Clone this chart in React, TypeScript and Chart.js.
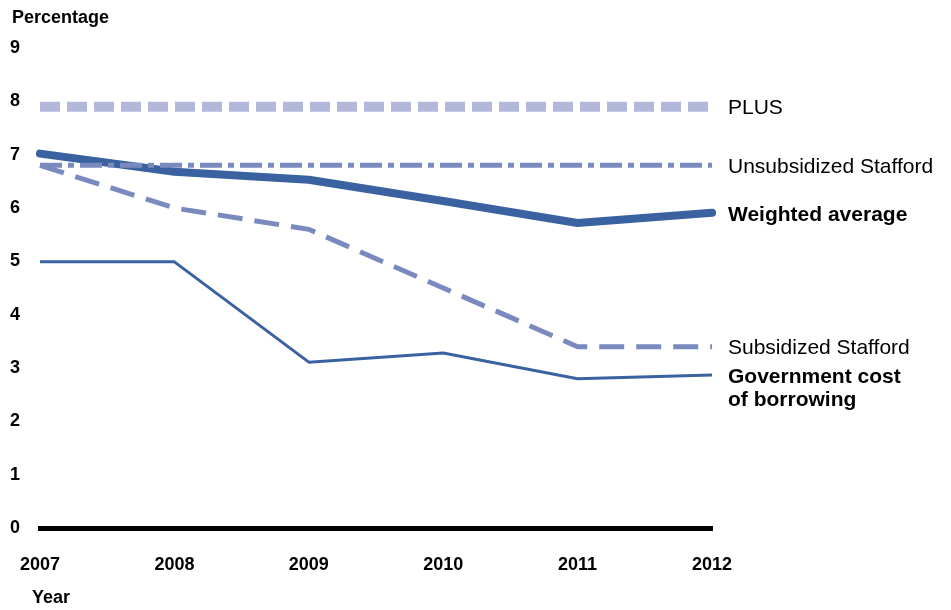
import React, { useEffect, useRef } from "react";
import { Chart, registerables } from "chart.js";

Chart.register(...registerables);

const years = ["2007", "2008", "2009", "2010", "2011", "2012"];
const plus = [7.9, 7.9, 7.9, 7.9, 7.9, 7.9];
const unsubsidized = [6.8, 6.8, 6.8, 6.8, 6.8, 6.8];
const weightedAverage = [7.02, 6.68, 6.53, 6.13, 5.72, 5.91];
const subsidized = [6.8, 6.0, 5.6, 4.5, 3.4, 3.4];
const govCost = [4.99, 4.99, 3.11, 3.28, 2.8, 2.87];

const yTicks = [0, 1, 2, 3, 4, 5, 6, 7, 8, 9];
const yTitle = "Percentage";
const xTitle = "Year";

const FONT = "'Liberation Sans', Arial, Helvetica, sans-serif";

type LabelSpec = { lines: string[]; bold: boolean };
const seriesLabels: LabelSpec[] = [
  { lines: ["Government cost", "of borrowing"], bold: true },
  { lines: ["Subsidized Stafford"], bold: false },
  { lines: ["PLUS"], bold: false },
  { lines: ["Unsubsidized Stafford"], bold: false },
  { lines: ["Weighted average"], bold: true },
];

const labelPlugin = {
  id: "sideLabels",
  afterDraw(chart: any) {
    const ctx = chart.ctx;
    const area = chart.chartArea;
    ctx.save();
    ctx.fillStyle = "#000";
    ctx.textBaseline = "middle";
    ctx.textAlign = "left";
    chart.data.datasets.forEach((ds: any, i: number) => {
      const meta = chart.getDatasetMeta(i);
      const pt = meta.data[meta.data.length - 1];
      const spec = seriesLabels[i];
      if (!pt || !spec) return;
      ctx.font = `${spec.bold ? "bold " : ""}21px ${FONT}`;
      spec.lines.forEach((line, k) => {
        ctx.fillText(line, area.right + 16, pt.y + 2 + k * 23);
      });
    });
    ctx.font = `bold 18px ${FONT}`;
    ctx.fillText(yTitle, 12, 18);
    ctx.fillText(xTitle, 32, 598);
    ctx.restore();
  },
};

export default function App() {
  const ref = useRef<HTMLCanvasElement | null>(null);
  useEffect(() => {
    if (!ref.current) return;
    const light = "#b3b8db";
    const mid = "#7a8abf";
    const dark = "#3a62a1";
    const chart = new Chart(ref.current, {
      type: "line",
      data: {
        labels: years,
        datasets: [
          {
            data: govCost,
            borderColor: dark,
            borderWidth: 3,
            pointRadius: 0,
            tension: 0,
            borderJoinStyle: "round",
          },
          {
            data: subsidized,
            borderColor: mid,
            borderWidth: 5,
            borderDash: [25, 12],
            pointRadius: 0,
            tension: 0,
          },
          {
            data: plus,
            borderColor: light,
            borderWidth: 10,
            borderDash: [20, 7],
            pointRadius: 0,
            tension: 0,
          },
          {
            data: unsubsidized,
            borderColor: mid,
            borderWidth: 5,
            borderDash: [22, 6, 6, 6],
            pointRadius: 0,
            tension: 0,
          },
          {
            data: weightedAverage,
            borderColor: dark,
            borderWidth: 8,
            borderCapStyle: "round",
            borderJoinStyle: "round",
            pointRadius: 0,
            tension: 0,
          },
        ],
      },
      options: {
        animation: false,
        responsive: false,
        layout: { padding: { top: 48, right: 239, left: 0, bottom: 0 } },
        plugins: {
          legend: { display: false },
          tooltip: { enabled: false },
          title: { display: false },
        },
        scales: {
          x: {
            offset: false,
            grid: { display: false, drawTicks: true, tickLength: 26 },
            border: { display: true, color: "#000", width: 5 },
            ticks: {
              color: "#000",
              font: { family: FONT, size: 18, weight: "bold" },
              padding: 0,
              maxRotation: 0,
              autoSkip: false,
            },
            afterFit(scale: any) {
              scale.height = 82;
            },
          },
          y: {
            min: 0,
            max: 9,
            grid: { display: false, drawTicks: false },
            border: { display: false },
            afterBuildTicks(scale: any) {
              scale.ticks = yTicks.map((v) => ({ value: v }));
            },
            ticks: {
              color: "#000",
              font: { family: FONT, size: 18, weight: "bold" },
              padding: 20,
            },
            afterFit(scale: any) {
              scale.width = 40;
            },
          },
        },
      },
      plugins: [labelPlugin],
    });
    return () => chart.destroy();
  }, []);
  return (
    <div style={{ position: "absolute", left: 0, top: 0, width: 951, height: 610, background: "#fff" }}>
      <canvas ref={ref} width={951} height={610} />
    </div>
  );
}
